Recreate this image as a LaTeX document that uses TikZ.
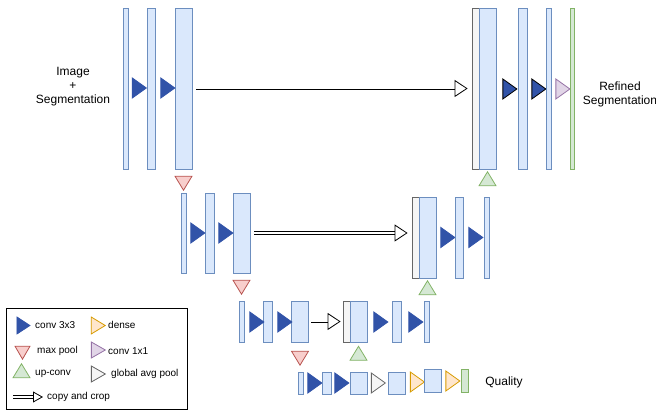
\documentclass[tikz,border=0pt]{standalone}
\usepackage{fontspec}
\setmainfont{Liberation Sans}
\usetikzlibrary{shapes.geometric, arrows.meta, positioning}
\definecolor{fmapfill}{HTML}{DAE8FC}
\definecolor{fmapline}{HTML}{6C8EBF}
\definecolor{convfill}{RGB}{49, 83, 168}
\definecolor{poolfill}{HTML}{F8CECC}
\definecolor{poolline}{HTML}{B85450}
\definecolor{upfill}{HTML}{D5E8D4}
\definecolor{upline}{HTML}{82B366}
\definecolor{onefill}{HTML}{E1D5E7}
\definecolor{oneline}{HTML}{9673A6}
\definecolor{densefill}{HTML}{FFE6CC}
\definecolor{denseline}{HTML}{D79B00}
\definecolor{skipfill}{HTML}{F5F5F5}
\definecolor{skipline}{HTML}{666666}

\begin{document}
\begin{tikzpicture}[x=1pt, y=-1pt,
    fmap/.style 2 args={rectangle, draw=fmapline, fill=fmapfill, line width=0.8pt,
                        minimum width=#1pt, minimum height=#2pt, inner sep=0pt},
    skip/.style 2 args={fmap={#1}{#2}, draw=skipline, fill=skipfill},
    outmap/.style 2 args={fmap={#1}{#2}, draw=upline, fill=upfill},
    tri/.style={isosceles triangle, isosceles triangle stretches, inner sep=0pt,
                line width=0.8pt, minimum width=20pt, minimum height=14pt},
    conv/.style={tri, fill=convfill, draw=convfill},
    pool/.style={tri, fill=poolfill, draw=poolline, shape border rotate=270,
                 minimum width=17pt, minimum height=14pt},
    upconv/.style={tri, fill=upfill, draw=upline, shape border rotate=90,
                   minimum width=17pt, minimum height=14pt},
    conv11/.style={tri, fill=onefill, draw=oneline},
    dense/.style={tri, fill=densefill, draw=denseline},
    gap/.style={tri, fill=skipfill, draw=skipline},
    copy/.style={double=white, double distance=2pt, line width=0.8pt,
                 -{Triangle[open, length=13pt, width=17pt, line width=0.8pt]},
                 shorten <=4pt, shorten >=4pt},
    lbl/.style={font=\fontsize{12}{14}\selectfont, align=center},
    key/.style={font=\fontsize{10}{12}\selectfont, anchor=west, inner sep=0pt}]

    \useasboundingbox (0,0) rectangle (656,411);

    % Level 1
    \node[fmap={5}{161}] (a1) at (125.5,88.5) {};
    \node[fmap={8}{161}] (a2) at (151,88.5) {};
    \node[fmap={17}{161}] (a3) at (183.5,88.5) {};
    \node[conv] (a1c) at (137.5,88) {};
    \node[conv] (a2c) at (166,88) {};
    \node[pool] (p1) at (183.5,181) {};

    \node[skip={8}{161}] (a4s) at (476,88.5) {};
    \node[fmap={17}{161}] (a4) at (487.5,88.5) {};
    \node[conv, draw=black] (a4c) at (508,89) {};
    \node[fmap={9}{161}] (a5) at (522.5,89) {};
    \node[conv, draw=black] (a5c) at (537,89) {};
    \node[fmap={5}{161}] (a6) at (548.5,89) {};
    \node[conv11] (a6c) at (561,89) {};
    \node[outmap={4}{161}] (a7) at (572,89) {};
    \node[upconv] (u1) at (487.5,181) {};

    \draw[copy] (a3) -- (a4s);

    % Level 2
    \node[fmap={5}{80}] (b1) at (183.5,233) {};
    \node[fmap={9}{80}] (b2) at (209.5,233) {};
    \node[fmap={17}{80}] (b3) at (241.5,233) {};
    \node[conv] (b1c) at (196,233) {};
    \node[conv] (b2c) at (224,233) {};
    \node[pool] (p2) at (241.5,285) {};

    \node[skip={8}{81}] (b4s) at (416,237.5) {};
    \node[fmap={17}{81}] (b4) at (427.5,237.5) {};
    \node[conv] (b4c) at (446,237.5) {};
    \node[fmap={8}{81}] (b5) at (459,237.5) {};
    \node[conv] (b5c) at (474,237.5) {};
    \node[fmap={5}{81}] (b6) at (486.5,237.5) {};
    \node[upconv] (u2) at (427.5,290) {};

    \draw[copy] (b3.east) -- (b3.east -| b4s.west);

    % Level 3
    \node[fmap={5}{41}] (c1) at (241.5,321.5) {};
    \node[fmap={9}{41}] (c2) at (268,321.5) {};
    \node[fmap={17}{41}] (c3) at (300,321.5) {};
    \node[conv] (c1c) at (255,322) {};
    \node[conv] (c2c) at (283,322) {};
    \node[pool] (p3) at (300,356) {};

    \node[skip={8}{41}] (c4s) at (347,321.5) {};
    \node[fmap={17}{41}] (c4) at (358.5,321.5) {};
    \node[conv] (c4c) at (379,322) {};
    \node[fmap={9}{41}] (c5) at (396.5,321.5) {};
    \node[conv] (c5c) at (414,322) {};
    \node[fmap={5}{41}] (c6) at (426.5,321.5) {};
    \node[upconv] (u3) at (358.5,355.5) {};

    \draw[copy, shorten <=2pt, shorten >=2pt] (c3) -- (c4s);

    % Level 4 (quality head)
    \node[fmap={5}{22}] (d1) at (300.5,383) {};
    \node[conv] (d1c) at (313,383) {};
    \node[fmap={9}{22}] (d2) at (326.5,383) {};
    \node[conv] (d2c) at (340,383) {};
    \node[fmap={17}{22}] (d3) at (358.5,383) {};
    \node[gap] (d3c) at (376.5,383) {};
    \node[fmap={17}{22}] (d4) at (396.5,383) {};
    \node[dense] (d4c) at (415.5,382) {};
    \node[fmap={17}{23}] (d5) at (432.5,380.5) {};
    \node[dense] (d5c) at (451,381) {};
    \node[outmap={7}{23}] (d6) at (464.5,380.5) {};

    % Labels
    \node[lbl] (inlbl) at (73,87) {Image\\+\\Segmentation};
    \node[lbl] (outlbl) at (620,94) {Refined\\Segmentation};
    \node[lbl] (qlbl) at (504,382) {Quality};

    % Legend
    \node[draw=black, line width=0.8pt, minimum width=181pt, minimum height=101pt,
          inner sep=0pt] (legend) at (96.5,358.5) {};
    \node[conv, minimum width=17pt, minimum height=13pt] (k1) at (21.5,325.5) {};
    \node[key] (k1t) at (35,325) {conv 3x3};
    \node[dense, minimum width=17pt, minimum height=14pt] (k2) at (96,325.5) {};
    \node[key] (k2t) at (108,325) {dense};
    \node[pool, minimum width=15pt, minimum height=13pt] (k3) at (22.5,350.5) {};
    \node[key] (k3t) at (37,351) {max pool};
    \node[conv11, minimum width=16pt, minimum height=14pt] (k4) at (96,350) {};
    \node[key] (k4t) at (108,351) {conv 1x1};
    \node[upconv, minimum width=17pt, minimum height=14pt] (k5) at (21.5,373) {};
    \node[key] (k5t) at (35,374) {up-conv};
    \node[gap, minimum width=16pt, minimum height=14pt] (k6) at (96,374) {};
    \node[key] (k6t) at (111,374) {global avg pool};
    \coordinate (k7a) at (13,397);
    \coordinate (k7b) at (43,397);
    \draw[copy, shorten <=0pt, shorten >=0pt,
          -{Triangle[open, length=10pt, width=11pt, line width=0.8pt]}] (k7a) -- (k7b);
    \node[key] (k7t) at (47,397) {copy and crop};
\end{tikzpicture}
\end{document}
